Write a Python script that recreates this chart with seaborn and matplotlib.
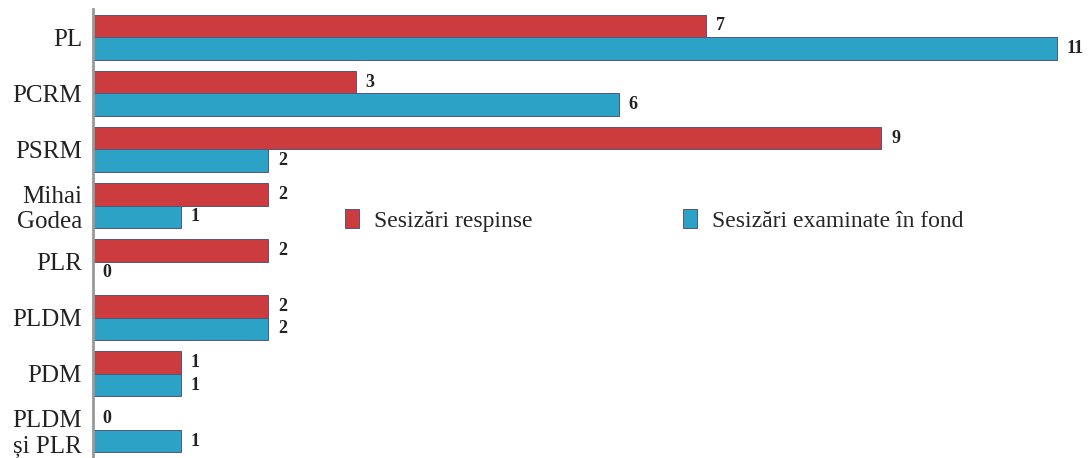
import pandas as pd
import seaborn as sns
import matplotlib.pyplot as plt

# categories and values
partide = ['PL', 'PCRM', 'PSRM', 'Mihai\nGodea', 'PLR', 'PLDM', 'PDM', 'PLDM\nși PLR']
respinse = [7, 3, 9, 2, 2, 2, 1, 0]
examinate = [11, 6, 2, 1, 0, 2, 1, 1]
serii = ['Sesizări respinse', 'Sesizări examinate în fond']

df = pd.DataFrame({
    'partid': partide * 2,
    'valoare': respinse + examinate,
    'serie': [serii[0]] * len(partide) + [serii[1]] * len(partide),
})

sns.set_style('white')
plt.rcParams['font.family'] = ['Liberation Serif', 'DejaVu Serif']

fig = plt.figure(figsize=(10.89, 4.58), dpi=100)
ax = fig.add_axes([0.0854, 0.0, 0.9146, 0.980])

sns.barplot(data=df, x='valoare', y='partid', hue='serie', orient='h',
            palette=['#cc3b3d', '#2ba2c6'], saturation=1, width=0.8, ax=ax,
            edgecolor='#55557a', linewidth=0.7)

for cont in ax.containers:
    ax.bar_label(cont, padding=7, fontsize=13, fontweight='bold', color='#222222')

ax.set_xlim(0, 11.37)
ax.set_ylim(7.5, -0.5)
ax.set_xlabel('')
ax.set_ylabel('')
ax.set_xticks([])
ax.tick_params(axis='y', length=0, pad=8, labelsize=18, labelcolor='#222222')
for s in ['top', 'right', 'bottom']:
    ax.spines[s].set_visible(False)
ax.spines['left'].set_color('#999999')
ax.spines['left'].set_linewidth(2)

ax.legend(loc='center left', bbox_to_anchor=(0.232, 0.53), ncol=2, frameon=False,
          fontsize=17, handlelength=0.6, handleheight=0.9, columnspacing=6.4,
          handletextpad=0.6)

fig.savefig('out.png', dpi=100)
